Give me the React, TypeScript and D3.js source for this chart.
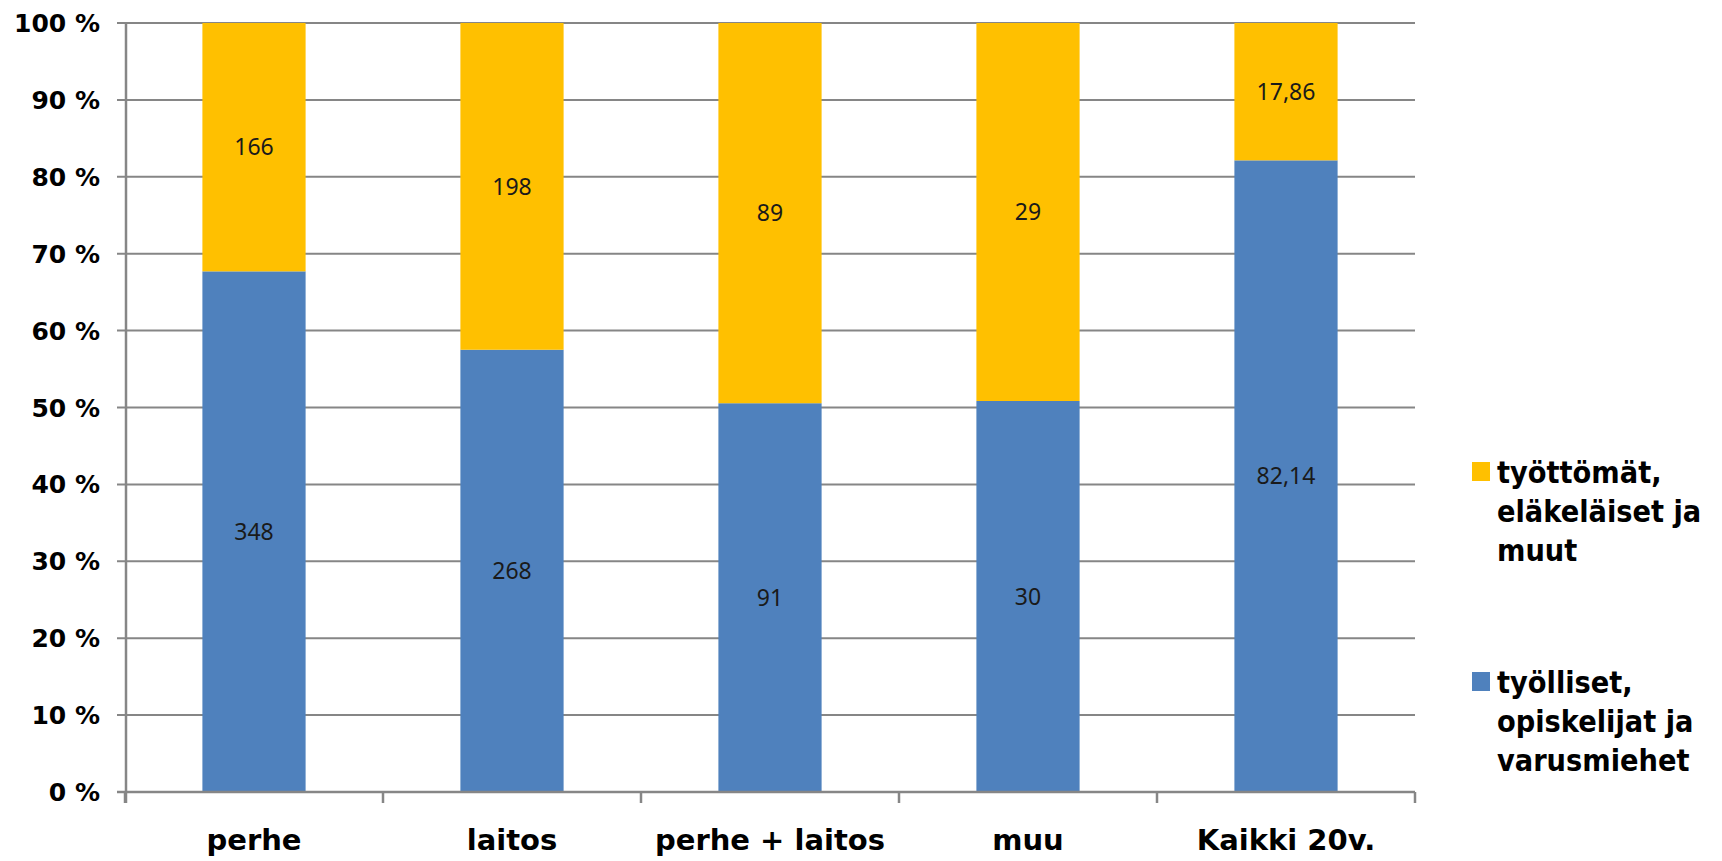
import React, { useRef, useEffect } from "react";
import * as d3 from "d3";

// Data
const categories = ["perhe", "laitos", "perhe + laitos", "muu", "Kaikki 20v."];
const employed = [348, 268, 91, 30, 82.14];
const other = [166, 198, 89, 29, 17.86];
const seriesNames = [
  ["työttömät,", "eläkeläiset ja", "muut"],
  ["työlliset,", "opiskelijat ja", "varusmiehet"]
];
const yTicks = [0, 10, 20, 30, 40, 50, 60, 70, 80, 90, 100];

// Look
const WIDTH = 1722;
const HEIGHT = 861;
const BLUE = "#4F81BD";
const YELLOW = "#FFC000";
const GRID = "#868686";
const AXIS_FONT = "'DejaVu Sans', Verdana, sans-serif";
const LABEL_FONT = "'Noto Sans', 'Open Sans', sans-serif";

function fmt(v: number) {
  return String(v).replace(".", ",");
}

export default function App() {
  const svgRef = useRef<SVGSVGElement | null>(null);

  useEffect(() => {
    drawChart();
  }, []);

  function drawChart() {
    const svg = d3.select(svgRef.current);
    svg.selectAll("*").remove();

    const left = 125;
    const right = 1415;
    const top = 23;
    const bottom = 792;

    const x = d3.scaleBand<string>()
      .domain(categories)
      .range([left, right])
      .paddingInner(0.6)
      .paddingOuter(0.3);
    const y = d3.scaleLinear().domain([0, 100]).range([bottom, top]);

    // gridlines
    svg.append("g")
      .selectAll("line")
      .data(yTicks)
      .join("line")
      .attr("x1", left - 8)
      .attr("x2", right)
      .attr("y1", (d) => y(d))
      .attr("y2", (d) => y(d))
      .attr("stroke", GRID)
      .attr("stroke-width", 2);

    // y labels
    svg.append("g")
      .selectAll("text")
      .data(yTicks)
      .join("text")
      .attr("x", 100)
      .attr("y", (d) => y(d))
      .attr("dy", "0.36em")
      .attr("text-anchor", "end")
      .style("font-family", AXIS_FONT)
      .style("font-weight", "bold")
      .style("font-size", "25px")
      .attr("fill", "#000")
      .text((d) => d + " %");

    // stacked bars (percent)
    const rows = categories.map((c, i) => {
      const total = employed[i] + other[i];
      const pe = (employed[i] / total) * 100;
      return { c, pe, e: employed[i], o: other[i] };
    });

    const bars = svg.append("g");
    rows.forEach((r) => {
      const bx = x(r.c) as number;
      const bw = x.bandwidth();
      bars.append("rect")
        .attr("x", bx)
        .attr("width", bw)
        .attr("y", y(r.pe))
        .attr("height", y(0) - y(r.pe))
        .attr("fill", BLUE);
      bars.append("rect")
        .attr("x", bx)
        .attr("width", bw)
        .attr("y", y(100))
        .attr("height", y(r.pe) - y(100))
        .attr("fill", YELLOW);
      bars.append("text")
        .attr("x", bx + bw / 2)
        .attr("y", (y(0) + y(r.pe)) / 2)
        .attr("dy", "0.36em")
        .attr("text-anchor", "middle")
        .style("font-family", LABEL_FONT)
        .style("font-size", "23px")
        .attr("fill", "#1a1a1a")
        .text(fmt(r.e));
      bars.append("text")
        .attr("x", bx + bw / 2)
        .attr("y", (y(100) + y(r.pe)) / 2)
        .attr("dy", "0.36em")
        .attr("text-anchor", "middle")
        .style("font-family", LABEL_FONT)
        .style("font-size", "23px")
        .attr("fill", "#1a1a1a")
        .text(fmt(r.o));
    });

    // y axis line
    svg.append("line")
      .attr("x1", left + 1)
      .attr("x2", left + 1)
      .attr("y1", top)
      .attr("y2", bottom + 11)
      .attr("stroke", GRID)
      .attr("stroke-width", 2.5);

    // x axis line + ticks at band boundaries
    svg.append("line")
      .attr("x1", left - 8)
      .attr("x2", right)
      .attr("y1", bottom)
      .attr("y2", bottom)
      .attr("stroke", GRID)
      .attr("stroke-width", 2.5);
    const step = x.step();
    const bounds = d3.range(categories.length + 1).map((i) => left + i * step);
    svg.append("g")
      .selectAll("line")
      .data(bounds)
      .join("line")
      .attr("x1", (d) => d)
      .attr("x2", (d) => d)
      .attr("y1", bottom)
      .attr("y2", bottom + 11)
      .attr("stroke", GRID)
      .attr("stroke-width", 2.5);

    // x labels
    svg.append("g")
      .selectAll("text")
      .data(categories)
      .join("text")
      .attr("x", (d) => (x(d) as number) + x.bandwidth() / 2)
      .attr("y", 850)
      .attr("text-anchor", "middle")
      .style("font-family", AXIS_FONT)
      .style("font-weight", "bold")
      .style("font-size", "29px")
      .attr("fill", "#000")
      .text((d) => d);

    // legend (text is a bit taller than wide in the original, hence the squeeze)
    const legendColors = [YELLOW, BLUE];
    const legendTops = [462, 672];
    legendColors.forEach((col, i) => {
      const g = svg.append("g");
      g.append("rect")
        .attr("x", 1472)
        .attr("y", legendTops[i])
        .attr("width", 18)
        .attr("height", 19)
        .attr("fill", col);
      seriesNames[i].forEach((line, j) => {
        g.append("text")
          .attr("transform", `translate(1497,${legendTops[i] + 21 + j * 39}) scale(0.88,1)`)
          .style("font-family", AXIS_FONT)
          .style("font-weight", "bold")
          .style("font-size", "31px")
          .attr("fill", "#000")
          .text(line);
      });
    });
  }

  return (
    <svg
      ref={svgRef}
      width={WIDTH}
      height={HEIGHT}
      style={{ position: "absolute", left: 0, top: 0, background: "#fff" }}
    ></svg>
  );
}
